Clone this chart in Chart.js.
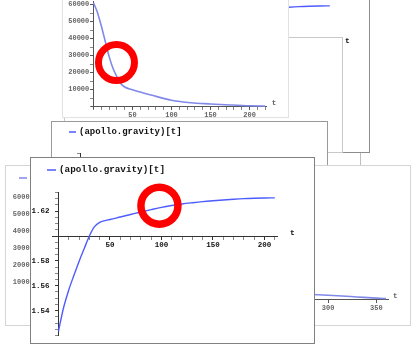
<!DOCTYPE html>
<html>
<head>
<meta charset="utf-8">
<script src="https://cdn.jsdelivr.net/npm/chart.js@4.4.1/dist/chart.umd.min.js"></script>
<style>
  html, body { margin: 0; padding: 0; background: #fff; }
  body { width: 412px; height: 345px; position: relative; overflow: hidden; }
  .win { position: absolute; background: #fff; box-sizing: border-box; border: 1px solid #ccc; overflow: hidden; }
  .win canvas { position: absolute; left: 0; top: 0; }
</style>
</head>
<body>
  <div class="win" style="left:120px; top:100px; width:241px; height:120px; border-color:#bdbdbd; z-index:1"></div>
  <div class="win" style="left:85px; top:-35px; width:285px; height:188px; border-color:#8c8c8c; z-index:2">
    <canvas id="backGravity" width="283" height="186"></canvas>
  </div>
  <div class="win" style="left:64px; top:37px; width:279px; height:116px; border-color:#c8c8c8; z-index:3"></div>
  <div class="win" style="left:62px; top:-20px; width:227px; height:138px; border-color:#e2e2e2; z-index:4">
    <canvas id="altitudeChart" width="225" height="136" style="filter: blur(0.5px)"></canvas>
  </div>
  <div class="win" style="left:51px; top:121px; width:277px; height:190px; border-color:#9a9a9a; z-index:5">
    <canvas id="midGravity" width="275" height="188" style="filter: blur(0.3px)"></canvas>
  </div>
  <div class="win" style="left:5px; top:165px; width:406px; height:161px; border-color:#d5d5d5; z-index:6">
    <canvas id="altitudeLongChart" width="404" height="159" style="filter: blur(0.5px)"></canvas>
  </div>
  <div class="win" style="left:30px; top:157px; width:285px; height:187px; border-color:#808080; z-index:7">
    <canvas id="gravityChart" width="283" height="185"></canvas>
  </div>

<script>
  const seriesName = '(apollo.gravity)[t]';

  const gravityT = [0, 2, 5, 10, 15, 20, 25, 30, 35, 40, 45, 50, 60, 70, 80, 90, 100, 110, 120, 130, 140, 150, 160, 170, 180, 190, 200, 210];
  const gravityG = [1.5234, 1.5314, 1.5425, 1.5566, 1.5684, 1.5796, 1.5899, 1.6000, 1.6075, 1.6110, 1.6124, 1.6133, 1.6153, 1.6173, 1.6193, 1.6212, 1.6230, 1.6245, 1.6258, 1.6268, 1.6277, 1.6284, 1.6290, 1.6296, 1.6301, 1.6304, 1.6306, 1.6307];
  const gravityXLabels = [50, 100, 150, 200];
  const gravityYLabels = [1.54, 1.56, 1.58, 1.62];

  const altitudeT = [0, 5, 10, 15, 20, 25, 30, 35, 40, 50, 60, 75, 100, 125, 150, 175, 200, 220];
  const altitudeH = [61000, 55500, 47500, 38500, 29500, 22500, 17500, 13500, 11500, 9800, 8500, 6600, 3700, 2200, 1500, 900, 400, 200];
  const altitudeXLabels = [50, 100, 150, 200];
  const altitudeYLabels = [10000, 20000, 30000, 40000, 50000, 60000];

  const altitudeLongT = [0, 10, 20, 30, 40, 60, 80, 100, 140, 180, 220, 260, 290, 310, 330, 350, 360];
  const altitudeLongH = [61000, 48000, 30000, 18000, 12000, 9500, 8000, 7000, 5800, 4800, 3900, 3100, 2500, 1900, 1200, 500, 200];
  const altitudeLongXLabels = [50, 100, 150, 200, 250, 300, 350];

  (() => {
    'use strict'

    const mono = '"Liberation Mono", "DejaVu Sans Mono", monospace';
    const has = (list, v) => list.some(l => Math.abs(l - v) < 1e-9);

    // legend line, axis variable "t" and the red highlight ring
    const mathPlot = {
      id: 'mathPlot',
      afterDraw(chart, args, o) {
        const { ctx, scales: { x, y } } = chart;
        ctx.save();
        ctx.textBaseline = 'middle';
        ctx.fillStyle = o.textColor;
        ctx.font = `bold ${o.tSize}px ${mono}`;
        ctx.fillText('t', x.right + o.tGap, y.getPixelForValue(o.cross) - 3);
        if (o.legend) {
          const L = o.legend;
          ctx.strokeStyle = o.lineColor;
          ctx.lineWidth = 1.5;
          ctx.beginPath();
          ctx.moveTo(L.x, L.y);
          ctx.lineTo(L.x + L.len, L.y);
          ctx.stroke();
          ctx.font = `bold ${L.size}px ${mono}`;
          ctx.fillText(seriesName, L.x + L.len + 3, L.y);
        }
        if (o.ring) {
          ctx.strokeStyle = '#ff0000';
          ctx.lineWidth = o.ring.w;
          ctx.beginPath();
          ctx.arc(x.getPixelForValue(o.ring.at[0]), y.getPixelForValue(o.ring.at[1]), o.ring.r, 0, Math.PI * 2);
          ctx.stroke();
        }
        ctx.restore();
      }
    };

    function stepTicks(min, max, step) {
      const out = [];
      for (let k = Math.ceil(min / step - 1e-9); k * step <= max + 1e-9; k++) {
        out.push({ value: +(k * step).toFixed(6) });
      }
      return out;
    }

    function plot(id, s) {
      const axisColor = s.axisColor || '#333';
      const labelColor = s.labelColor || '#111';
      const font = { family: mono, size: s.fontSize, weight: 'bold' };
      // labels of an axis placed at x = 0 are right-aligned on the axis line itself,
      // so trailing spaces keep them clear of it
      const gap = ' '.repeat(s.gapChars);
      return new Chart(document.getElementById(id), {
        type: 'line',
        data: {
          datasets: [{
            label: seriesName,
            data: s.t.map((t, i) => ({ x: t, y: s.v[i] })),
            borderColor: s.lineColor,
            borderWidth: s.lineWidth,
            pointRadius: 0,
            cubicInterpolationMode: 'monotone',
            fill: false
          }]
        },
        options: {
          responsive: false,
          animation: false,
          events: [],
          layout: { padding: s.pad },
          scales: {
            x: {
              type: 'linear',
              position: { y: s.cross },
              min: s.xMin,
              max: s.xMax,
              afterBuildTicks: axis => { axis.ticks = stepTicks(s.xMin, s.xMax, s.xStep); },
              border: { display: true, color: axisColor, width: 1 },
              grid: {
                drawOnChartArea: false,
                tickLength: 3,
                tickColor: c => has(s.xLabels, c.tick.value) ? axisColor : '#888'
              },
              ticks: {
                autoSkip: false,
                maxRotation: 0,
                padding: 2,
                color: labelColor,
                font: font,
                callback: v => has(s.xLabels, v) ? String(v) : ''
              }
            },
            y: {
              type: 'linear',
              position: { x: 0 },
              min: s.yMin,
              max: s.yMax,
              afterBuildTicks: axis => { axis.ticks = stepTicks(s.yMin, s.yMax, s.yStep); },
              border: { display: true, color: axisColor, width: 1 },
              grid: {
                drawOnChartArea: false,
                tickLength: 3,
                tickColor: c => has(s.yLabels, c.tick.value) ? axisColor : '#888'
              },
              ticks: {
                autoSkip: false,
                padding: 3,
                color: labelColor,
                font: font,
                callback: v => has(s.yLabels, v) ? s.fmt(v) + gap : ''
              }
            }
          },
          plugins: {
            legend: { display: false },
            tooltip: { enabled: false },
            mathPlot: {
              cross: s.cross,
              tSize: s.fontSize + 0.5,
              tGap: s.tGap,
              textColor: labelColor,
              lineColor: s.lineColor,
              legend: s.legend,
              ring: s.ring
            }
          }
        },
        plugins: [mathPlot]
      });
    }

    const gravityBase = {
      t: gravityT, v: gravityG,
      xLabels: gravityXLabels, yLabels: gravityYLabels,
      xMin: -5.5, xMax: 213, xStep: 10,
      yMin: 1.52, yMax: 1.635, yStep: 0.005,
      cross: 1.6,
      fmt: v => v.toFixed(2),
      lineColor: '#4d5cff', lineWidth: 1.4,
      fontSize: 7.5, gapChars: 2, tGap: 12,
      pad: { left: 21.8, right: 36.1, top: 34.5, bottom: 6.7 },
      legend: { x: 16, y: 12, len: 9, size: 9.3 }
    };

    const altitudeBase = {
      xStep: 10, yMin: -1000, yMax: 62000, yStep: 5000,
      cross: 0,
      fmt: v => String(v),
      lineColor: '#8088e8', lineWidth: 1.6,
      axisColor: '#555', labelColor: '#666',
      fontSize: 7, gapChars: 1, tGap: 5
    };

    // back copy of the gravity window (only its top right corner shows)
    plot('backGravity', gravityBase);

    plot('altitudeChart', Object.assign({}, altitudeBase, {
      t: altitudeT, v: altitudeH,
      xLabels: altitudeXLabels, yLabels: altitudeYLabels,
      xMin: -2, xMax: 222,
      pad: { left: 28.9, right: 21.3, top: 20.1, bottom: 8.8 },
      ring: { at: [29.5, 25900], r: 18, w: 7 }
    }));

    plot('midGravity', Object.assign({}, gravityBase, {
      fontSize: 7.2,
      pad: { left: 22.5, right: 34, top: 31, bottom: 17.6 },
      legend: { x: 17, y: 10, len: 7, size: 9 }
    }));

    plot('altitudeLongChart', Object.assign({}, altitudeBase, {
      t: altitudeLongT, v: altitudeLongH,
      xLabels: altitudeLongXLabels, yLabels: altitudeYLabels,
      xMin: -2, xMax: 362, xStep: 50,
      pad: { left: 30.1, right: 22, top: 27.6, bottom: 24.3 },
      legend: { x: 13, y: 12, len: 8, size: 8 }
    }));

    plot('gravityChart', Object.assign({}, gravityBase, {
      ring: { at: [98, 1.6244], r: 18.5, w: 7.5 }
    }));
  })();
</script>
</body>
</html>
